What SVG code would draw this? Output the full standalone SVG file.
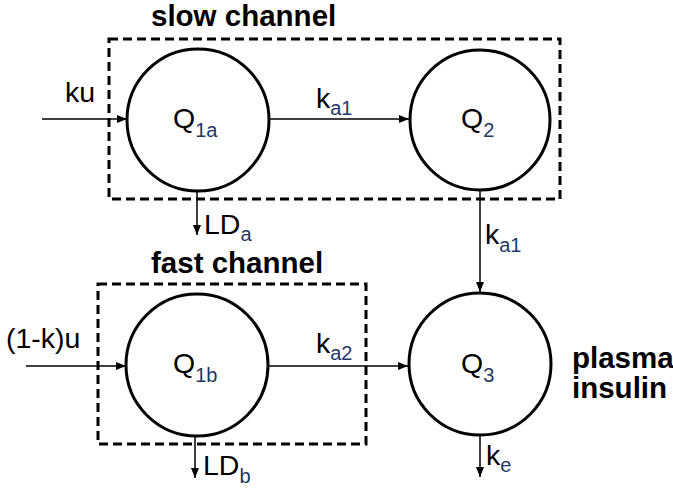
<svg xmlns="http://www.w3.org/2000/svg" width="673" height="488" viewBox="0 0 673 488">
<style>
.node{fill:#fff;stroke:#000;stroke-width:3}
.box{fill:none;stroke:#000;stroke-width:3;stroke-dasharray:9,5}
.con{fill:none;stroke:#000;stroke-width:1.5;marker-end:url(#ah)}
.lbl{font-family:"Liberation Sans",Arial,sans-serif;font-size:28.5px;fill:#000}
.sub{font-size:20px;fill:#1F3864}
.ttl{font-family:"Liberation Sans",Arial,sans-serif;font-size:29.5px;font-weight:bold;fill:#000}
</style>
<defs>
<marker id="ah" viewBox="0 0 10 8" refX="10" refY="4" markerWidth="10" markerHeight="8" markerUnits="userSpaceOnUse" orient="auto">
<path d="M0,0 L10,4 L0,8 z" fill="#000"/>
</marker>
</defs>
<rect width="673" height="488" fill="#fff"/>
<g id="slow-channel">
<rect class="box" x="109" y="39" width="451" height="160"/>
<text class="ttl" x="151" y="26">slow channel</text>
</g>
<g id="fast-channel">
<rect class="box" x="98" y="284" width="268" height="160"/>
<text class="ttl" x="151" y="273">fast channel</text>
</g>
<g id="connectors">
<line class="con" x1="42" y1="119" x2="127" y2="119"/>
<line class="con" x1="269" y1="119" x2="409" y2="119"/>
<line class="con" x1="197" y1="191" x2="197" y2="235"/>
<line class="con" x1="480" y1="191" x2="480" y2="292"/>
<line class="con" x1="26" y1="366" x2="126" y2="366"/>
<line class="con" x1="268" y1="366" x2="408" y2="366"/>
<line class="con" x1="195" y1="437" x2="195" y2="478"/>
<line class="con" x1="480" y1="436" x2="480" y2="477"/>
<text class="lbl" x="65" y="102">ku</text>
<text class="lbl" x="316" y="108">k<tspan class="sub" dy="7">a1</tspan></text>
<text class="lbl" x="204" y="234">LD<tspan class="sub" dy="7">a</tspan></text>
<text class="lbl" x="485" y="244">k<tspan class="sub" dy="8">a1</tspan></text>
<text class="lbl" x="6" y="348">(1-k)u</text>
<text class="lbl" x="316" y="353">k<tspan class="sub" dy="7">a2</tspan></text>
<text class="lbl" x="203" y="475">LD<tspan class="sub" dy="8">b</tspan></text>
<text class="lbl" x="486" y="465">k<tspan class="sub" dy="7">e</tspan></text>
</g>
<g id="Q1a">
<circle class="node" cx="198" cy="120" r="71"/>
<text class="lbl" x="173" y="128">Q<tspan class="sub" dy="9">1a</tspan></text>
</g>
<g id="Q2">
<circle class="node" cx="480" cy="120" r="70"/>
<text class="lbl" x="461" y="128">Q<tspan class="sub" dy="9">2</tspan></text>
</g>
<g id="Q1b">
<circle class="node" cx="197" cy="365" r="71"/>
<text class="lbl" x="173" y="373">Q<tspan class="sub" dy="9">1b</tspan></text>
</g>
<g id="Q3">
<circle class="node" cx="480" cy="364" r="71"/>
<text class="lbl" x="461" y="373">Q<tspan class="sub" dy="9">3</tspan></text>
</g>
<g id="plasma-insulin">
<text class="ttl" x="572" y="368">plasma</text>
<text class="ttl" x="572" y="398">insulin</text>
</g>
</svg>
